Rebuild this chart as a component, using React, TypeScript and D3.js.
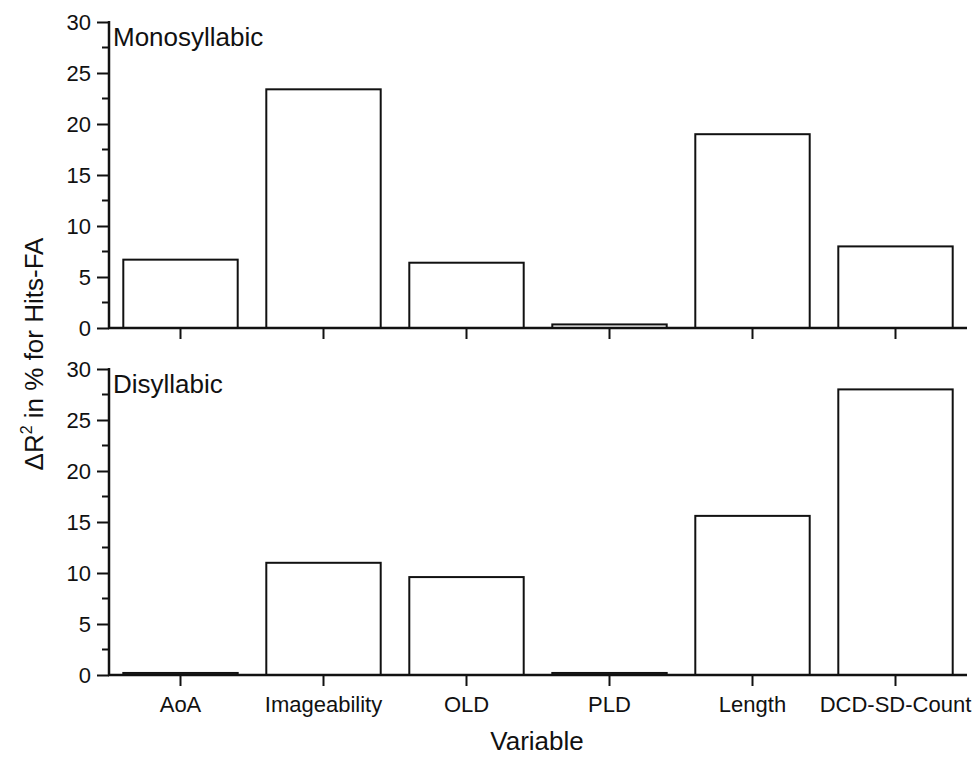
import React, { useEffect, useRef } from 'react';
import * as d3 from 'd3';

const categories = ['AoA', 'Imageability', 'OLD', 'PLD', 'Length', 'DCD-SD-Count'];
const monoValues = [6.7, 23.4, 6.4, 0.35, 19.0, 8.0];
const diValues = [0.2, 11.0, 9.6, 0.2, 15.6, 28.0];
const panelTitles = ['Monosyllabic', 'Disyllabic'];
const yTicks = [0, 5, 10, 15, 20, 25, 30];
const yMinorTicks = [2.5, 7.5, 12.5, 17.5, 22.5, 27.5];

const App = () => {
  const ref = useRef<SVGSVGElement>(null);

  useEffect(() => {
    const svg = d3.select(ref.current);
    svg.selectAll('*').remove();

    const left = 109;
    const right = 967;
    const font = 'Liberation Sans, Arial, sans-serif';

    const x = d3.scaleBand()
      .domain(categories)
      .range([left, right])
      .paddingInner(0.2)
      .paddingOuter(0.1);

    const panels = [
      { title: panelTitles[0], values: monoValues, top: 22, bottom: 328 },
      { title: panelTitles[1], values: diValues, top: 369, bottom: 675 },
    ];

    panels.forEach((p, pi) => {
      const y = d3.scaleLinear().domain([0, 30]).range([p.bottom, p.top]);
      const g = svg.append('g');

      // bars
      g.selectAll('rect.bar')
        .data(p.values)
        .enter()
        .append('rect')
        .attr('class', 'bar')
        .attr('x', (d, i) => x(categories[i]) as number)
        .attr('y', d => y(d))
        .attr('width', x.bandwidth())
        .attr('height', d => y(0) - y(d))
        .attr('fill', '#fff')
        .attr('stroke', '#111')
        .attr('stroke-width', 2);

      // y axis
      const yAxis = d3.axisLeft(y)
        .tickValues(yTicks)
        .tickSize(12)
        .tickPadding(6)
        .tickFormat(d3.format('d'));
      const ya = g.append('g')
        .attr('transform', `translate(${left},0)`)
        .call(yAxis);
      ya.select('.domain').remove();
      ya.selectAll('line').attr('stroke', '#111').attr('stroke-width', 2);
      ya.selectAll('text')
        .attr('font-family', font)
        .attr('font-size', 22)
        .attr('fill', '#111');

      g.selectAll('line.minor')
        .data(yMinorTicks)
        .enter()
        .append('line')
        .attr('class', 'minor')
        .attr('x1', left - 7)
        .attr('x2', left)
        .attr('y1', d => y(d))
        .attr('y2', d => y(d))
        .attr('stroke', '#111')
        .attr('stroke-width', 2);

      g.append('line')
        .attr('x1', left).attr('x2', left)
        .attr('y1', y(30) - 1).attr('y2', y(0))
        .attr('stroke', '#111').attr('stroke-width', 2.5);

      // x axis
      const xAxis = d3.axisBottom(x).tickSize(11).tickSizeOuter(0).tickPadding(10);
      const xa = g.append('g')
        .attr('transform', `translate(0,${y(0)})`)
        .call(xAxis);
      xa.select('.domain').remove();
      xa.selectAll('line').attr('stroke', '#111').attr('stroke-width', 2);
      if (pi === 0) {
        xa.selectAll('text').remove();
      } else {
        xa.selectAll('text')
          .attr('font-family', font)
          .attr('font-size', 22)
          .attr('fill', '#111');
      }
      g.append('line')
        .attr('x1', left - 1).attr('x2', right)
        .attr('y1', y(0)).attr('y2', y(0))
        .attr('stroke', '#111').attr('stroke-width', 2.5);

      g.append('text')
        .attr('x', left + 4)
        .attr('y', p.top + 24)
        .attr('font-family', font)
        .attr('font-size', 26)
        .attr('fill', '#111')
        .text(p.title);
    });

    // axis titles
    svg.append('text')
      .attr('x', 537)
      .attr('y', 750)
      .attr('text-anchor', 'middle')
      .attr('font-family', font)
      .attr('font-size', 26)
      .attr('fill', '#111')
      .text('Variable');

    const yl = svg.append('text')
      .attr('transform', 'translate(43,354) rotate(-90)')
      .attr('text-anchor', 'middle')
      .attr('font-family', font)
      .attr('font-size', 26)
      .attr('fill', '#111');
    yl.append('tspan').text('ΔR');
    yl.append('tspan').attr('font-size', 16).attr('dy', -11).text('2');
    yl.append('tspan').attr('dy', 11).text(' in % for Hits-FA');
  }, []);

  return (
    <svg
      ref={ref}
      width={975}
      height={757}
      style={{ position: 'absolute', left: 0, top: 0, background: '#fff' }}
    />
  );
};

export default App;
